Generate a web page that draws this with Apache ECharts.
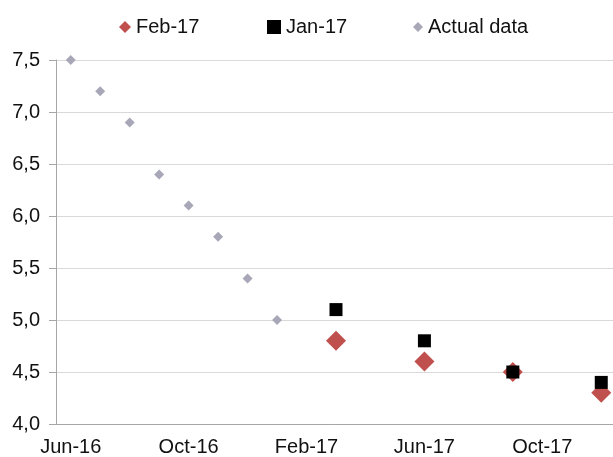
<!DOCTYPE html>
<html lang="en">
  <head>
    <meta charset="UTF-8" />
    <title>Forecasts vs actual</title>
    <style>
      body { margin: 0; background: #ffffff; }
      #chart { width: 613px; height: 457px; }
    </style>
    <script src="https://cdn.jsdelivr.net/npm/echarts@6/dist/echarts.min.js"></script>
  </head>
  <body>
    <div id="chart"></div>
    <script>
      // monthly category axis, Jun-16 .. Dec-17
      const months = [
        "Jun-16", "Jul-16", "Aug-16", "Sep-16", "Oct-16", "Nov-16", "Dec-16",
        "Jan-17", "Feb-17", "Mar-17", "Apr-17", "May-17", "Jun-17", "Jul-17",
        "Aug-17", "Sep-17", "Oct-17", "Nov-17", "Dec-17"
      ];
      const actualMonths = ["Jun-16", "Jul-16", "Aug-16", "Sep-16", "Oct-16", "Nov-16", "Dec-16", "Jan-17"];
      const actualValues = [7.5, 7.2, 6.9, 6.4, 6.1, 5.8, 5.4, 5.0];
      const forecastMonths = ["Mar-17", "Jun-17", "Sep-17", "Dec-17"];
      const feb17Values = [4.8, 4.6, 4.5, 4.3];
      const jan17Values = [5.1, 4.8, 4.5, 4.4];

      const pairs = (xs, ys) => xs.map((x, i) => [x, ys[i]]);

      const font = "Liberation Sans, Arial, sans-serif";
      const textStyle = { fontFamily: font, fontSize: 20, color: "#111111" };

      const chart = echarts.init(document.getElementById("chart"), null, { renderer: "canvas" });
      chart.setOption({
        animation: false,
        backgroundColor: "#ffffff",
        legend: [
          {
            left: 114, top: 12, itemWidth: 12, itemHeight: 12, itemGap: 0,
            textStyle: textStyle,
            data: [{ name: "Feb-17", icon: "diamond" }]
          },
          {
            left: 262, top: 12, itemWidth: 14, itemHeight: 14, itemGap: 0,
            textStyle: textStyle,
            data: [{ name: "Jan-17", icon: "rect" }]
          },
          {
            left: 408, top: 12, itemWidth: 10, itemHeight: 10, itemGap: 0,
            textStyle: textStyle,
            data: [{ name: "Actual data", icon: "diamond" }]
          }
        ],
        grid: {
          left: 56, right: -3, top: 60, bottom: 33,
          containLabel: false, outerBoundsMode: "none"
        },
        xAxis: {
          type: "category",
          data: months,
          boundaryGap: true,
          axisLine: { lineStyle: { color: "#a6a6a6", width: 1 } },
          axisTick: { interval: 3, length: 5, lineStyle: { color: "#a6a6a6" } },
          axisLabel: { interval: 3, margin: 13, fontFamily: font, fontSize: 20, color: "#111111" },
          splitLine: { show: false }
        },
        yAxis: {
          type: "value",
          min: 4,
          max: 7.5,
          interval: 0.5,
          axisLine: { show: true, lineStyle: { color: "#a6a6a6", width: 1 } },
          axisTick: { show: true, length: 7, lineStyle: { color: "#a6a6a6" } },
          axisLabel: {
            margin: 16,
            fontFamily: font,
            fontSize: 20,
            color: "#111111",
            formatter: (v) => v.toFixed(1).replace(".", ",")
          },
          splitLine: { lineStyle: { color: "#d9d9d9", width: 1 } }
        },
        series: [
          {
            name: "Actual data",
            type: "scatter",
            symbol: "diamond",
            symbolSize: 10,
            itemStyle: { color: "#a8a7b8", opacity: 1 },
            data: pairs(actualMonths, actualValues)
          },
          {
            name: "Feb-17",
            type: "scatter",
            symbol: "diamond",
            symbolSize: 20,
            itemStyle: { color: "#c0504d", opacity: 1 },
            data: pairs(forecastMonths, feb17Values)
          },
          {
            name: "Jan-17",
            type: "scatter",
            symbol: "rect",
            symbolSize: 13,
            itemStyle: { color: "#000000", opacity: 1 },
            data: pairs(forecastMonths, jan17Values)
          }
        ]
      });
    </script>
  </body>
</html>
